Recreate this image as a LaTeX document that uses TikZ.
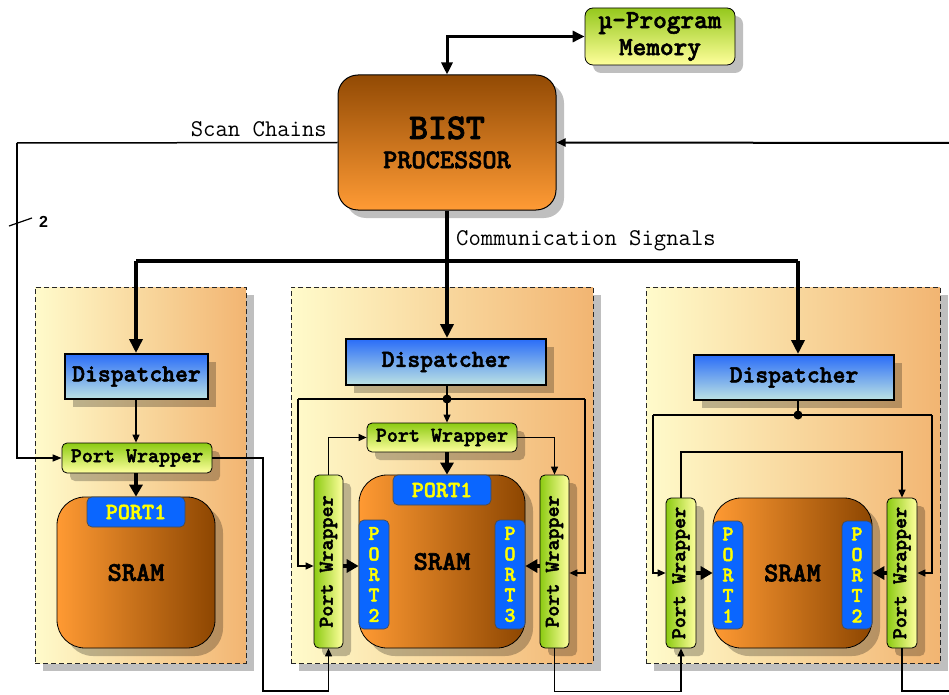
\documentclass[tikz,border=0pt]{standalone}
\usepackage{fontspec}
\newfontfamily\arialf{Liberation Sans}
\newfontfamily\courb{lmmonolt10-bold.otf}[FakeBold=2.2]
\newcommand{\cour}{\ttfamily}
\usetikzlibrary{arrows.meta,shadows}
\definecolor{clL}{HTML}{FFFBCB}
\definecolor{clR}{HTML}{F2B572}
\definecolor{bistT}{HTML}{924A04}
\definecolor{bistB}{HTML}{FF9B35}
\definecolor{memT}{HTML}{95C81D}
\definecolor{memB}{HTML}{FFFF9B}
\definecolor{dispT}{HTML}{2A6DF8}
\definecolor{dispB}{HTML}{BDE3E3}
\definecolor{pwG}{HTML}{8CCB12}
\definecolor{pwY}{HTML}{FFFF9E}
\definecolor{sramL}{HTML}{FF9A33}
\definecolor{sramR}{HTML}{8D4601}
\definecolor{portB}{HTML}{0A66FF}
\definecolor{portT}{HTML}{FFFF00}
\tikzset{
  shad/.style={drop shadow={shadow xshift=8pt,shadow yshift=-8pt,fill=black,opacity=0.25}},
  cluster/.style={draw=black!85,dash pattern=on 5pt off 3pt,line width=0.9pt,left color=clL,right color=clR,shad,inner sep=0pt},
  bistbox/.style={draw=black,line width=1pt,rounded corners=20pt,top color=bistT,bottom color=bistB,shad,inner sep=0pt,align=center},
  membox/.style={draw=black,line width=0.8pt,rounded corners=8pt,top color=memT,bottom color=memB,shad,inner sep=0pt,align=center,font=\courb\fontsize{26}{27}\selectfont},
  disp/.style={draw=black,line width=2pt,top color=dispT,bottom color=dispB,shad,inner sep=0pt,font=\courb\fontsize{24.5}{24.5}\selectfont},
  pwh/.style={draw=black,line width=0.8pt,rounded corners=5pt,top color=pwG,bottom color=pwY,shad,inner sep=0pt,font=\courb\fontsize{21}{21}\selectfont},
  pwv/.style={draw=black,line width=0.8pt,rounded corners=5pt,left color=pwG,right color=pwY,shad,inner sep=0pt,font=\courb\fontsize{21}{21}\selectfont},
  sram/.style={draw=black,line width=0.8pt,rounded corners=28pt,left color=sramL,right color=sramR,shad,inner sep=0pt,font=\courb\fontsize{27}{27}\selectfont},
  porttab/.style={draw=black!70,line width=0.7pt,rounded corners=5pt,fill=portB,text=portT,inner sep=0pt,align=center,font=\courb\fontsize{23}{23}\selectfont},
  vporttab/.style={porttab,font=\courb\fontsize{21}{20.5}\selectfont},
  conn/.style={line width=1.2pt,-{Triangle[length=8pt,width=7pt]}},
  plain/.style={line width=1.2pt},
  bus/.style={line width=4pt},
  busarr/.style={line width=4pt,-{Triangle[length=14pt,width=13pt]}},
  fat/.style={line width=4pt,-{Triangle[length=12pt,width=13pt]}},
  lbl/.style={font=\cour\fontsize{24}{24}\selectfont,inner sep=0pt},
}
\begin{document}
\begin{tikzpicture}[x=1pt,y=-1pt]
\useasboundingbox (0,0) rectangle (949,695);
% clusters
\node[cluster,minimum width=211pt,minimum height=376pt] (cL) at (140.5,475) {};
\node[cluster,minimum width=302pt,minimum height=376pt] (cM) at (442,475) {};
\node[cluster,minimum width=294pt,minimum height=376pt] (cR) at (793,475) {};
% top
\node[membox,minimum width=150pt,minimum height=57pt] (mem) at (660,36.5) {µ-Program\\Memory};
\node[bistbox,minimum width=218pt,minimum height=135pt] (bist) at (447,142.5)
  {{\courb\fontsize{36}{36}\selectfont BIST}\\[11pt]{\courb\fontsize{27}{27}\selectfont PROCESSOR}};
% dispatchers
\node[disp,minimum width=143pt,minimum height=45pt] (dL) at (136.5,376.5) {Dispatcher};
\node[disp,minimum width=200pt,minimum height=46pt] (dM) at (446,362) {Dispatcher};
\node[disp,minimum width=200pt,minimum height=45pt] (dR) at (794,377.5) {Dispatcher};
% left cluster
\node[pwh,minimum width=150pt,minimum height=30pt] (pwL) at (137,458) {Port Wrapper};
\node[sram,minimum width=158pt,minimum height=151pt] (sL) at (136,572.5) {SRAM};
\node[porttab,minimum width=98pt,minimum height=30pt] (p1L) at (136,512) {PORT1};
% middle cluster
\node[pwh,minimum width=150pt,minimum height=29pt] (pwM) at (442,437.5) {Port Wrapper};
\node[pwv,minimum width=29pt,minimum height=173pt] (vML) at (328.5,561.5) {\rotatebox{90}{Port Wrapper}};
\node[pwv,minimum width=29pt,minimum height=173pt] (vMR) at (554.5,561.5) {\rotatebox{90}{Port Wrapper}};
\node[sram,minimum width=166pt,minimum height=173pt] (sM) at (442,561.5) {SRAM};
\node[porttab,minimum width=98pt,minimum height=30pt] (p1M) at (442,490) {PORT1};
\node[vporttab,minimum width=30pt,minimum height=109pt] (p2M) at (374,574.5) {P\\O\\R\\T\\2};
\node[vporttab,minimum width=30pt,minimum height=109pt] (p3M) at (510,574.5) {P\\O\\R\\T\\3};
% right cluster
\node[pwv,minimum width=30pt,minimum height=150pt] (vRL) at (681,573) {\rotatebox{90}{Port Wrapper}};
\node[pwv,minimum width=30pt,minimum height=150pt] (vRR) at (902,573) {\rotatebox{90}{Port Wrapper}};
\node[sram,minimum width=159pt,minimum height=150pt] (sR) at (792.5,573) {SRAM};
\node[vporttab,minimum width=30pt,minimum height=108pt] (p1R) at (728,575) {P\\O\\R\\T\\1};
\node[vporttab,minimum width=30pt,minimum height=108pt] (p2R) at (857,575) {P\\O\\R\\T\\2};
% coordinates
\coordinate (scL) at (17,143);
\coordinate (rin) at (949,143);
\coordinate (busL) at (136,261);
\coordinate (busM) at (447,261);
\coordinate (busR) at (798,261);
\coordinate (dotM) at (447,399);
\coordinate (hML) at (298,399);
\coordinate (hMR) at (585,399);
\coordinate (dotR) at (798,415);
\coordinate (hRL) at (653,415);
\coordinate (hRR) at (932,415);
\coordinate (bL) at (263,691);
\coordinate (outR) at (949,691);
\coordinate (sl1) at (9,226);
\coordinate (sl2) at (32,218);
% memory link
\draw[line width=3pt,{Triangle[length=12pt,width=11pt]}-{Triangle[length=12pt,width=11pt]}] (bist.north) |- (mem.west);
% scan chains
\draw[line width=1.5pt] (bist.west) -- (scL);
\draw[line width=1.5pt,-{Triangle[length=9pt,width=7pt]}] (scL) |- (pwL.west);
\draw[line width=1.2pt] (sl1) -- (sl2);
\node[font=\arialf\bfseries\fontsize{16}{16}\selectfont,inner sep=0pt] (two) at (43.5,222) {2};
\node[lbl,anchor=base east] (scanlbl) at (327,137) {Scan Chains};
% right input
\draw[line width=2pt,-{Triangle[length=9pt,width=8pt]}] (rin) -- (bist.east);
% communication bus
\draw[bus] (bist.south) -- (busM);
\draw[bus] (busL) -- (busR);
\node[lbl,anchor=base west] (comlbl) at (456,245) {Communication Signals};
\draw[busarr] (busL) -- (busL |- dL.north);
\draw[busarr] (busM) -- (busM |- dM.north);
\draw[busarr] (busR) -- (busR |- dR.north);
% left cluster links
\draw[conn] (dL.south -| busL) -- (busL |- pwL.north);
\draw[fat] (busL |- pwL.south) -- (busL |- p1L.north);
\draw[conn] (pwL.east) -| (bL) -| (vML.south);
% middle cluster links
\draw[plain] (dotM |- dM.south) -- (dotM);
\fill (dotM) circle (4.5pt);
\draw[conn] (dotM) -- (dotM |- pwM.north);
\draw[plain] (hML) -- (hMR);
\draw[conn] (hML) |- (vML.west |- 0,566);
\draw[conn] (hMR) |- (vMR.east |- 0,573);
\draw[conn] (vML.north) |- (pwM.west);
\draw[conn] (pwM.east) -| (vMR.north);
\draw[fat] (dotM |- pwM.south) -- (dotM |- sM.north);
\draw[fat] (vML.east |- 0,566) -- (p2M.west |- 0,566);
\draw[fat] (vMR.west |- 0,566) -- (p3M.east |- 0,566);
\draw[conn] (vMR.south) -- ++(0,43) -| (vRL.south);
% right cluster links
\draw[plain] (dotR |- dR.south) -- (dotR);
\fill (dotR) circle (4.5pt);
\draw[plain] (hRL) -- (hRR);
\draw[conn] (hRL) |- (vRL.west |- 0,573);
\draw[conn] (hRR) |- (vRR.east |- 0,573);
\draw[conn] (vRL.north) |- (vRR.north |- 0,452) -- (vRR.north);
\draw[fat] (vRL.east |- 0,573) -- (p1R.west |- 0,573);
\draw[fat] (vRR.west |- 0,573) -- (p2R.east |- 0,573);
\draw[line width=2pt] (vRR.south) |- (outR);
\end{tikzpicture}
\end{document}
